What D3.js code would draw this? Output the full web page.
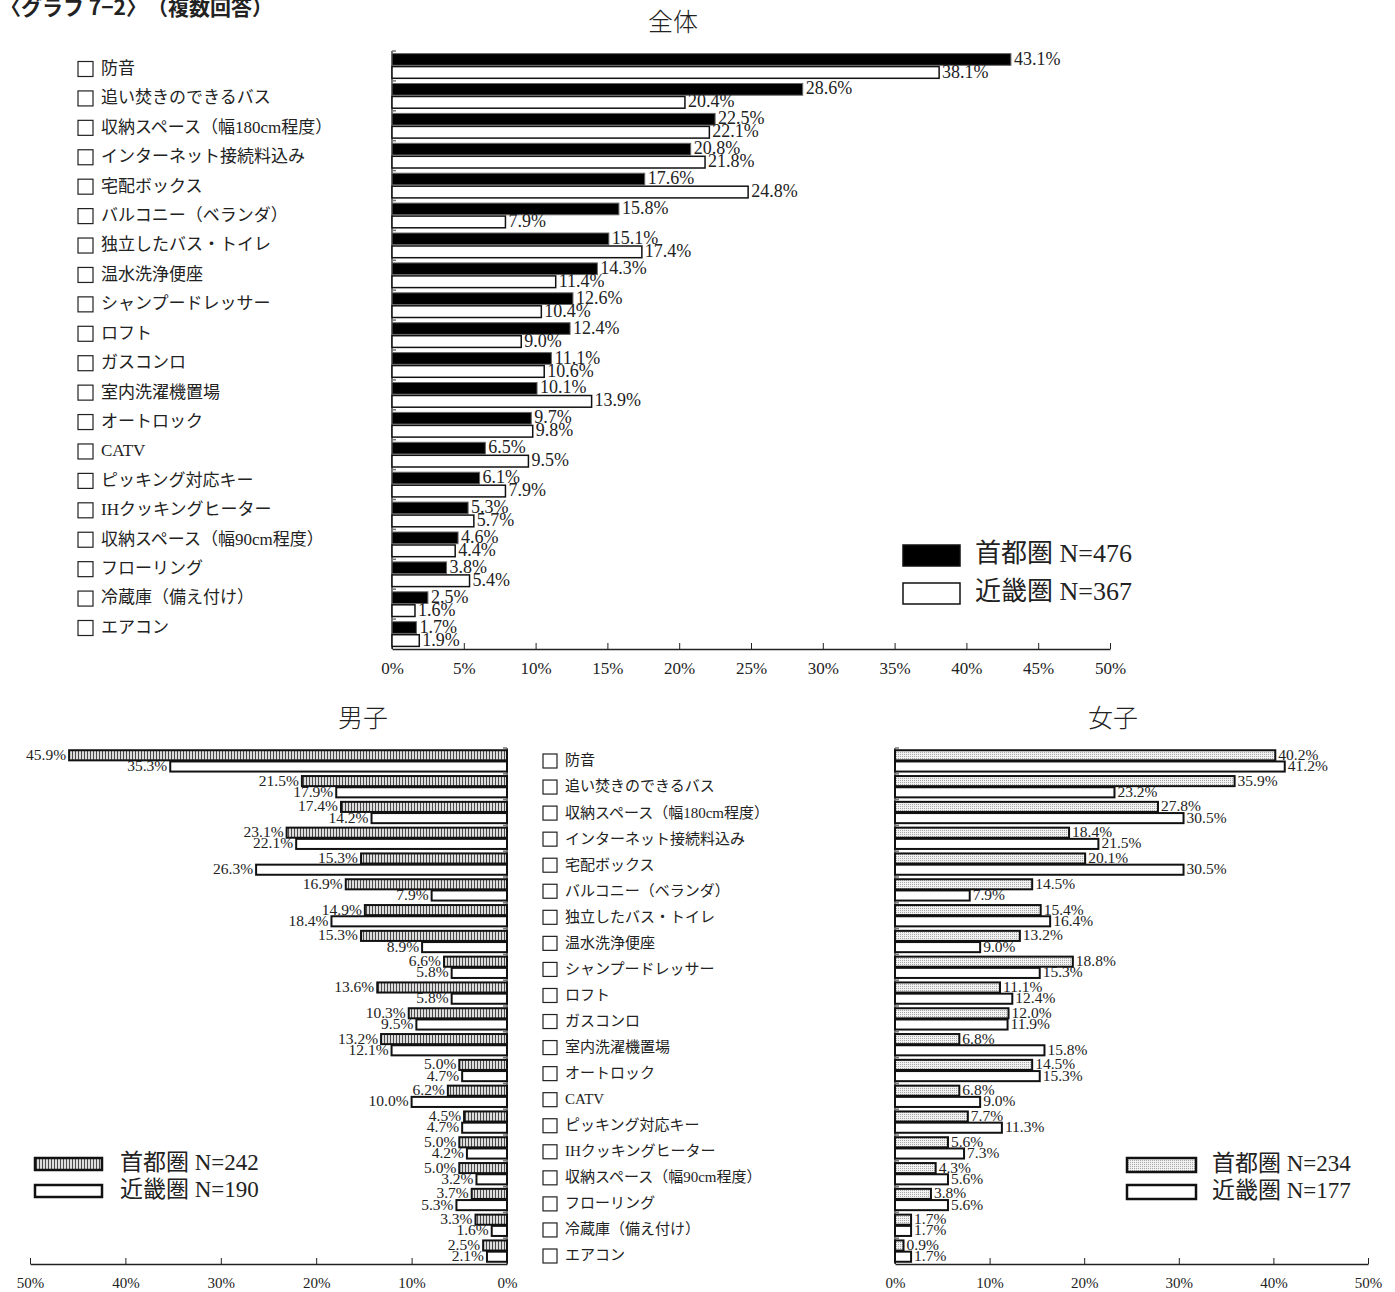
<!DOCTYPE html>
<html><head><meta charset="utf-8">
<script src="https://cdn.jsdelivr.net/npm/d3@7"></script>
<style>
body{margin:0;background:#fff}
text{font-family:"Liberation Serif","Noto Sans CJK JP",serif;fill:#222}
</style>
</head><body>
<svg id="c" width="1395" height="1292"></svg>
<script>
const categories = ["防音","追い焚きのできるバス","収納スペース（幅180cm程度）","インターネット接続料込み","宅配ボックス","バルコニー（ベランダ）","独立したバス・トイレ","温水洗浄便座","シャンプードレッサー","ロフト","ガスコンロ","室内洗濯機置場","オートロック","CATV","ピッキング対応キー","IHクッキングヒーター","収納スペース（幅90cm程度）","フローリング","冷蔵庫（備え付け）","エアコン"];
const totalShuto  = [43.1,28.6,22.5,20.8,17.6,15.8,15.1,14.3,12.6,12.4,11.1,10.1,9.7,6.5,6.1,5.3,4.6,3.8,2.5,1.7];
const totalKinki  = [38.1,20.4,22.1,21.8,24.8,7.9,17.4,11.4,10.4,9.0,10.6,13.9,9.8,9.5,7.9,5.7,4.4,5.4,1.6,1.9];
const maleShuto   = [45.9,21.5,17.4,23.1,15.3,16.9,14.9,15.3,6.6,13.6,10.3,13.2,5.0,6.2,4.5,5.0,5.0,3.7,3.3,2.5];
const maleKinki   = [35.3,17.9,14.2,22.1,26.3,7.9,18.4,8.9,5.8,5.8,9.5,12.1,4.7,10.0,4.7,4.2,3.2,5.3,1.6,2.1];
const femaleShuto = [40.2,35.9,27.8,18.4,20.1,14.5,15.4,13.2,18.8,11.1,12.0,6.8,14.5,6.8,7.7,5.6,4.3,3.8,1.7,0.9];
const femaleKinki = [41.2,23.2,30.5,21.5,30.5,7.9,16.4,9.0,15.3,12.4,11.9,15.8,15.3,9.0,11.3,7.3,5.6,5.6,1.7,1.7];
const topTicks = [0,5,10,15,20,25,30,35,40,45,50];
const bottomTicks = [0,10,20,30,40,50];
const seriesKeys = ["shuto","kinki"];
const legendTotal  = ["首都圏 N=476","近畿圏 N=367"];
const legendMale   = ["首都圏 N=242","近畿圏 N=190"];
const legendFemale = ["首都圏 N=234","近畿圏 N=177"];
const pageTitle = "〈グラフ 7−2〉　（複数回答）";
const panelTitles = ["全体","男子","女子"];

const svg = d3.select("#c");
const defs = svg.append("defs");
const stripe = defs.append("pattern").attr("id","stripe").attr("patternUnits","userSpaceOnUse").attr("width",3).attr("height",3);
stripe.append("rect").attr("width",3).attr("height",3).attr("fill","#dcdcdc");
stripe.append("rect").attr("width",1).attr("height",3).attr("fill","#4a4a4a");
const dots = defs.append("pattern").attr("id","dots").attr("patternUnits","userSpaceOnUse").attr("width",2).attr("height",2);
dots.append("rect").attr("width",2).attr("height",2).attr("fill","#f2f2f2");
dots.append("rect").attr("width",1).attr("height",1).attr("fill","#a8a8a8");

// page title
svg.append("text").attr("x",0).attr("y",15).attr("font-size",21).attr("font-weight","bold")
  .style("font-family","'Noto Sans CJK JP'").text(pageTitle);

function panel(o){
  const g = svg.append("g");
  const x = d3.scaleLinear().domain([0,50]).range(o.xr);
  const y = d3.scaleBand().domain(categories).range(o.yr);
  const sub = d3.scaleBand().domain(seriesKeys).range([0,y.bandwidth()]).paddingInner(0.1).paddingOuter(0.2);
  const dir = o.xr[1] > o.xr[0] ? 1 : -1;
  // title
  g.append("text").attr("x",o.titleX).attr("y",o.titleY).attr("text-anchor","middle")
    .attr("font-size",25).style("font-family","'Noto Sans CJK JP'").attr("font-weight",300).text(o.title);
  // x axis
  const ax = g.append("g").attr("transform",`translate(0,${o.yr[1]})`)
    .call(d3.axisBottom(x).tickValues(o.ticks).tickFormat(d=>d+"%").tickSizeInner(-6).tickSizeOuter(0).tickPadding(13));
  ax.select(".domain").attr("stroke","#222").attr("stroke-width",1.3);
  ax.selectAll(".tick line").attr("stroke","#222");
  ax.selectAll("text").attr("font-size",o.tickFont).style("font-family","'Liberation Serif'").attr("fill","#333");
  // y axis line with small ticks
  g.append("line").attr("x1",x(0)).attr("x2",x(0)).attr("y1",o.yr[0]).attr("y2",o.yr[1]).attr("stroke","#222").attr("stroke-width",1.3);
  g.selectAll(".yt").data(categories).join("line")
    .attr("x1",x(0)).attr("x2",x(0)+dir*4).attr("y1",d=>y(d)).attr("y2",d=>y(d)).attr("stroke","#777").attr("stroke-width",1.5);
  const series = [{k:"shuto",v:o.a,fill:o.fillA,stroke:o.strokeA,sw:o.swA},{k:"kinki",v:o.b,fill:"#fff",stroke:"#111",sw:o.swB}];
  series.forEach(s=>{
    const gg = g.append("g");
    gg.selectAll("rect").data(categories).join("rect")
      .attr("x",(d,i)=>Math.min(x(0),x(s.v[i])))
      .attr("width",(d,i)=>Math.abs(x(s.v[i])-x(0)))
      .attr("y",d=>y(d)+sub(s.k))
      .attr("height",sub.bandwidth())
      .attr("fill",s.fill).attr("stroke",s.stroke).attr("stroke-width",s.sw);
    gg.selectAll("text").data(categories).join("text")
      .attr("x",(d,i)=>x(s.v[i])+dir*(o.sw+2))
      .attr("y",d=>y(d)+sub(s.k)+sub.bandwidth()/2+1)
      .attr("dominant-baseline","middle")
      .attr("text-anchor",dir>0?"start":"end")
      .attr("font-size",o.labelFont).attr("fill","#333")
      .text((d,i)=>s.v[i].toFixed(1)+"%");
  });
  // legend
  const lg = g.append("g");
  [0,1].forEach(i=>{
    lg.append("rect").attr("x",o.leg.x).attr("y",o.leg.y+i*o.leg.dy).attr("width",o.leg.w).attr("height",o.leg.h)
      .attr("fill",i===0?o.fillA:"#fff").attr("stroke","#111").attr("stroke-width",o.leg.sw);
    lg.append("text").attr("x",o.leg.tx).attr("y",o.leg.y+i*o.leg.dy+o.leg.h/2+1).attr("dominant-baseline","middle")
      .attr("font-size",o.leg.fs).attr("fill","#222").text(o.legend[i]);
  });
}

function catList(x, yr, fs, box){
  const p = d3.scalePoint().domain(categories).range(yr);
  const g = svg.append("g");
  g.selectAll("rect").data(categories).join("rect")
    .attr("x",x).attr("y",d=>p(d)-box/2).attr("width",box).attr("height",box)
    .attr("fill","#fff").attr("stroke","#222").attr("stroke-width",1.2);
  g.selectAll("text").data(categories).join("text")
    .attr("x",x+box+8).attr("y",d=>p(d)+1).attr("dominant-baseline","middle")
    .attr("font-size",fs).attr("fill","#222").text(d=>d);
}

panel({xr:[392,1110], yr:[51,649], ticks:topTicks, a:totalShuto, b:totalKinki, fillA:"#000", strokeA:"#666", swA:1, swB:1.5, sw:1,
  labelFont:18, tickFont:17, title:panelTitles[0], titleX:673, titleY:31, legend:legendTotal,
  leg:{x:903,y:545,dy:38,w:57,h:21,sw:1.5,tx:975,fs:26}});
panel({xr:[507,30], yr:[748,1264], ticks:bottomTicks, a:maleShuto, b:maleKinki, fillA:"url(#stripe)", strokeA:"#111", swA:2, swB:2, sw:1,
  labelFont:15.5, tickFont:15, title:panelTitles[1], titleX:363, titleY:727, legend:legendMale,
  leg:{x:35,y:1158,dy:27,w:67,h:12,sw:2.5,tx:120,fs:23}});
panel({xr:[895,1368], yr:[748,1264], ticks:bottomTicks, a:femaleShuto, b:femaleKinki, fillA:"url(#dots)", strokeA:"#111", swA:2, swB:2, sw:1,
  labelFont:15.5, tickFont:15, title:panelTitles[2], titleX:1113, titleY:727, legend:legendFemale,
  leg:{x:1127,y:1158,dy:27,w:69,h:14,sw:2.5,tx:1212,fs:23}});

catList(78, [69,628], 17, 15);
catList(543, [761,1256], 15, 14);
</script>
</body></html>
